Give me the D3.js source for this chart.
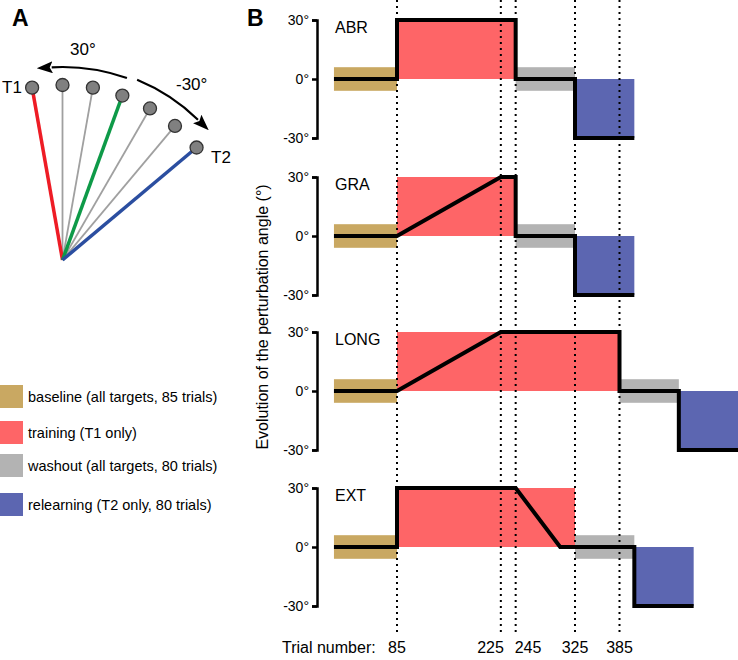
<!DOCTYPE html>
<html><head><meta charset="utf-8">
<script src="https://cdn.jsdelivr.net/npm/d3@7/dist/d3.min.js"></script>
<style>body{margin:0;background:#fff}svg{display:block}text{font-family:"Liberation Sans",Arial,sans-serif}</style>
</head><body>
<svg id="c" width="738" height="660"></svg>
<script>
// ---- data ----
const trialTicks = [85, 225, 245, 325, 385];
const angleTicks = [-30, 0, 30];
const panelNames = ["ABR", "GRA", "LONG", "EXT"];
// perturbation profiles [trial, angle]
const profileABR  = [[0,0],[85,0],[85,30],[245,30],[245,0],[325,0],[325,-30],[405,-30]];
const profileGRA  = [[0,0],[85,0],[225,30],[245,30],[245,0],[325,0],[325,-30],[405,-30]];
const profileLONG = [[0,0],[85,0],[225,30],[385,30],[385,0],[465,0],[465,-30],[545,-30]];
const profileEXT  = [[0,0],[85,0],[85,30],[245,30],[305,0],[405,0],[405,-30],[485,-30]];
// phase boundaries [baseline, training, washout, relearning] as [start,end] trials
const phasesABR  = [[0,85],[85,245],[245,325],[325,405]];
const phasesGRA  = [[0,85],[85,245],[245,325],[325,405]];
const phasesLONG = [[0,85],[85,385],[385,465],[465,545]];
const phasesEXT  = [[0,85],[85,325],[325,405],[405,485]];
const bandHalf = 6; // degrees, half-width of baseline/washout band
const phaseNames = ["baseline (all targets, 85 trials)", "training (T1 only)", "washout (all targets, 80 trials)", "relearning (T2 only, 80 trials)"];
const targetAngles = [-10, 0, 10, 20, 30, 40, 50];
const targetLabels = ["T1", "T2"];
const rotationLabels = ["30°", "-30°"];

const profiles = [profileABR, profileGRA, profileLONG, profileEXT];
const phases = [phasesABR, phasesGRA, phasesLONG, phasesEXT];
const phaseColors = ["#c9a862", "#fe6567", "#b3b3b3", "#5c66b1"];

const svg = d3.select("#c");

// ---- Panel B ----
const x = d3.scaleLinear().domain([85, 325]).range([397, 575]);
const zeroY = [79, 236, 391, 547];
const halfH = 59;

svg.append("text").attr("x", 247).attr("y", 26).attr("font-size", 23).attr("font-weight", "bold").text("B");
svg.append("text").attr("x", 12).attr("y", 26).attr("font-size", 23).attr("font-weight", "bold").text("A");

const gFill = svg.append("g");
const gDots = svg.append("g");
const gLine = svg.append("g");

panelNames.forEach((name, i) => {
  const y = d3.scaleLinear().domain([-30, 30]).range([zeroY[i] + halfH, zeroY[i] - halfH]);
  const ph = phases[i];
  const bands = [
    {r: ph[0], lo: -bandHalf, hi: bandHalf, c: phaseColors[0]},
    {r: ph[1], lo: 0, hi: 30, c: phaseColors[1]},
    {r: ph[2], lo: -bandHalf, hi: bandHalf, c: phaseColors[2]},
    {r: ph[3], lo: -30, hi: 0, c: phaseColors[3]}
  ];
  gFill.selectAll(null).data(bands).enter().append("rect")
    .attr("x", d => x(d.r[0])).attr("width", d => x(d.r[1]) - x(d.r[0]))
    .attr("y", d => y(d.hi)).attr("height", d => y(d.lo) - y(d.hi))
    .attr("fill", d => d.c);
  const line = d3.line().x(d => x(d[0])).y(d => y(d[1]));
  gLine.append("path").attr("d", line(profiles[i])).attr("fill", "none")
    .attr("stroke", "#000").attr("stroke-width", 4).attr("stroke-linejoin", "miter").attr("stroke-linecap", "butt");
  const ax = svg.append("g").attr("transform", "translate(317,0)")
    .call(d3.axisLeft(y).tickValues(angleTicks).tickSize(5).tickSizeOuter(5).tickPadding(3).tickFormat(d => d + "°"));
  ax.select(".domain").attr("stroke-width", 2.5);
  ax.selectAll(".tick line").attr("stroke-width", 2.5);
  ax.selectAll(".tick text").attr("font-size", 14).attr("font-family", "Liberation Sans, Arial, sans-serif").attr("fill", "#000");
  svg.append("text").attr("x", 335).attr("y", y(30) + 13).attr("font-size", 16).text(name);
});

gDots.selectAll(null).data(trialTicks).enter().append("line")
  .attr("x1", d => x(d)).attr("x2", d => x(d)).attr("y1", 0).attr("y2", 634)
  .attr("stroke", "#000").attr("stroke-width", 2).attr("stroke-dasharray", "2,4");

const anchorFor = d => d === 225 ? "end" : d === 245 ? "start" : "middle";
const dxFor = d => d === 225 ? 3 : d === 245 ? -1 : 0;
svg.selectAll(null).data(trialTicks).enter().append("text")
  .attr("x", d => x(d) + dxFor(d)).attr("y", 653).attr("text-anchor", anchorFor).attr("font-size", 16).text(d => d);
svg.append("text").attr("x", 282).attr("y", 653).attr("font-size", 16).text("Trial number:");

svg.append("text").attr("transform", "translate(268,317) rotate(-90)").attr("text-anchor", "middle")
  .attr("font-size", 16).text("Evolution of the perturbation angle (°)");

// ---- Legend ----
const legY = [385, 421, 454, 493];
phaseNames.forEach((n, i) => {
  svg.append("rect").attr("x", 0).attr("y", legY[i]).attr("width", 23).attr("height", 23).attr("fill", phaseColors[i]);
  svg.append("text").attr("x", 28).attr("y", legY[i] + 17).attr("font-size", 14.5).text(n);
});

// ---- Panel A ----
const cx = 62.5, cy = 260, R = 175;
const rad = d => d * Math.PI / 180;
const px = (a, r) => cx + r * Math.sin(rad(a));
const py = (a, r) => cy - r * Math.cos(rad(a));
const tColor = a => a === -10 ? "#ee1c25" : a === 20 ? "#0e9a48" : a === 50 ? "#2b4ea0" : "#a0a0a0";
const tWidth = a => (a === -10 || a === 20 || a === 50) ? 3.5 : 1.8;
const gA = svg.append("g");
gA.selectAll(null).data(targetAngles.filter(a => tWidth(a) < 3)).enter().append("line")
  .attr("x1", cx).attr("y1", cy).attr("x2", a => px(a, R)).attr("y2", a => py(a, R))
  .attr("stroke", tColor).attr("stroke-width", tWidth);
gA.selectAll(null).data(targetAngles.filter(a => tWidth(a) > 3)).enter().append("line")
  .attr("x1", cx).attr("y1", cy).attr("x2", a => px(a, R)).attr("y2", a => py(a, R))
  .attr("stroke", tColor).attr("stroke-width", tWidth);
gA.selectAll(null).data(targetAngles).enter().append("circle")
  .attr("cx", a => px(a, R)).attr("cy", a => py(a, R)).attr("r", 6.5)
  .attr("fill", "#808080").attr("stroke", "#333").attr("stroke-width", 1.3);

svg.append("defs").append("marker").attr("id", "ah").attr("viewBox", "0 0 16 12")
  .attr("refX", 1).attr("refY", 6).attr("markerWidth", 16).attr("markerHeight", 12)
  .attr("markerUnits", "userSpaceOnUse").attr("orient", "auto")
  .append("path").attr("d", "M0,0L16,6L0,12L3,6Z").attr("fill", "#000");

function arcPath(r, a0, a1) {
  const p = d3.path();
  p.moveTo(px(a0, r), py(a0, r));
  p.arc(cx, cy, r, rad(a0 - 90), rad(a1 - 90), a1 < a0);
  return p.toString();
}
gA.append("path").attr("d", arcPath(193, 19.5, -3.2)).attr("fill", "none").attr("stroke", "#000")
  .attr("stroke-width", 2.2).attr("marker-end", "url(#ah)");
gA.append("path").attr("d", arcPath(195, 22.5, 44)).attr("fill", "none").attr("stroke", "#000")
  .attr("stroke-width", 2.2).attr("marker-end", "url(#ah)");

svg.append("text").attr("x", 70).attr("y", 55).attr("font-size", 17).text(rotationLabels[0]);
svg.append("text").attr("x", 176).attr("y", 90).attr("font-size", 17).text(rotationLabels[1]);
svg.append("text").attr("x", 2).attr("y", 93).attr("font-size", 17).text(targetLabels[0]);
svg.append("text").attr("x", 211).attr("y", 163).attr("font-size", 17).text(targetLabels[1]);
</script>
</body></html>
